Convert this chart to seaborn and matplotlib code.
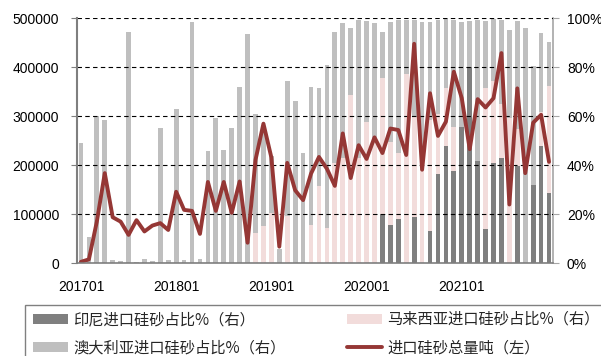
import numpy as np
import pandas as pd
import matplotlib
matplotlib.use("Agg")
import matplotlib.pyplot as plt
import seaborn as sns
from matplotlib.patches import Rectangle, Patch
from matplotlib.lines import Line2D
from matplotlib.ticker import FuncFormatter

# Monthly categories, Jan 2017 - Dec 2021
months = [
    "201701", "201702", "201703", "201704", "201705", "201706", "201707", "201708", "201709", "201710", "201711", "201712",
    "201801", "201802", "201803", "201804", "201805", "201806", "201807", "201808", "201809", "201810", "201811", "201812",
    "201901", "201902", "201903", "201904", "201905", "201906", "201907", "201908", "201909", "201910", "201911", "201912",
    "202001", "202002", "202003", "202004", "202005", "202006", "202007", "202008", "202009", "202010", "202011", "202012",
    "202101", "202102", "202103", "202104", "202105", "202106", "202107", "202108", "202109", "202110", "202111", "202112",
]
tick_labels = ["201701", "201801", "201901", "202001", "202101"]

# Total silica sand imports (tonnes, left axis)
total_tons = [
    3000, 8000, 85000, 184000, 94000, 85000, 58000, 88000, 65000, 77000, 82000, 68000,
    146000, 109000, 107000, 60000, 166000, 107000, 166000, 103000, 167000, 42000, 211000, 285000,
    216000, 34000, 205000, 149000, 129000, 183000, 217000, 193000, 158000, 265000, 174000, 241000,
    213000, 257000, 225000, 275000, 272000, 221000, 448000, 191000, 347000, 260000, 289000, 391000,
    337000, 233000, 335000, 318000, 337000, 429000, 120000, 357000, 184000, 287000, 303000, 207000,
]

# Import shares by origin (%, right axis)
indonesia_pct = [
    0, 0, 0, 0, 0, 0, 0, 0, 0, 0, 0, 0,
    0, 0, 0, 0, 0, 0, 0, 0, 0, 0, 0, 0,
    0, 0, 0, 0, 0, 0, 0, 0, 0, 0, 0, 0,
    0, 0, 20.0, 15.6, 18.1, 0, 18.9, 0, 13.2, 36.3, 48.0, 37.7,
    55.5, 80.0, 41.9, 14.0, 40.8, 43.0, 0, 39.9, 0, 32.0, 48.0, 28.8,
]
malaysia_pct = [
    0, 0, 0, 0, 0, 0, 0, 0, 0, 0, 0, 0,
    0, 0, 0, 0, 0, 0, 0, 0, 0, 0, 12.5, 15.3,
    20.6, 0, 19.4, 0, 0, 15.6, 31.6, 14.6, 40.8, 43.0, 68.7, 42.9,
    57.6, 51.0, 55.7, 34.1, 27.0, 77.2, 41.0, 38.0, 45.3, 24.6, 23.4, 18.1,
    0, 0, 0, 57.6, 33.6, 22.1, 59.2, 15.0, 0, 0, 13.6, 43.6,
]
australia_pct = [
    49.3, 10.8, 60.0, 58.4, 1.4, 1.1, 94.3, 0.7, 1.6, 1.1, 55.1, 1.4,
    63.0, 1.4, 98.5, 1.8, 46.0, 59.5, 46.4, 55.4, 72.1, 93.5, 48.3, 38.7,
    23.4, 5.7, 55.2, 66.4, 45.2, 56.5, 39.8, 66.4, 53.7, 55.0, 27.3, 56.4,
    41.3, 47.0, 18.9, 48.6, 54.3, 22.2, 39.5, 60.6, 40.1, 38.4, 28.2, 43.5,
    43.1, 18.8, 57.3, 27.4, 25.2, 34.2, 36.0, 44.0, 95.9, 48.6, 32.5, 17.8,
]

df = pd.DataFrame({
    "month": months,
    "total": total_tons,
    "id": indonesia_pct,
    "my": malaysia_pct,
    "au": australia_pct,
})
df["top_id"] = df["id"]
df["top_my"] = df["id"] + df["my"]
df["top_au"] = df["id"] + df["my"] + df["au"]

C_ID = "#7f7f7f"
C_MY = "#f2dcdb"
C_AU = "#bfbfbf"
C_LINE = "#953735"

sns.set_style("white")
plt.rcParams["font.family"] = ["Liberation Sans", "Noto Sans CJK SC", "DejaVu Sans"]

fig = plt.figure(figsize=(6.01, 3.56), dpi=100)
ax = fig.add_axes([77 / 601, 1 - 263.3 / 356, (553 - 77) / 601, (263.3 - 18.3) / 356])
axb = ax.twinx()

# stacked share bars (drawn as overlapping cumulative heights)
for col, c in [("top_au", C_AU), ("top_my", C_MY), ("top_id", C_ID)]:
    sns.barplot(data=df, x="month", y=col, color=c, saturation=1, width=0.6,
                linewidth=0, errorbar=None, ax=axb)

# total tonnage line
sns.lineplot(x=np.arange(len(months)), y=df["total"].values, ax=ax,
             color=C_LINE, linewidth=2.8, solid_joinstyle="round")

ax.set_zorder(axb.get_zorder() + 1)
ax.patch.set_visible(False)

ax.set_xlim(-0.5, len(months) - 0.5)
ax.set_ylim(0, 500000)
axb.set_ylim(0, 100)

ax.set_yticks(range(0, 500001, 100000))
ax.yaxis.set_major_formatter(FuncFormatter(lambda v, p: f"{int(v)}"))
axb.set_yticks(range(0, 101, 20))
axb.yaxis.set_major_formatter(FuncFormatter(lambda v, p: f"{int(v)}%"))

ax.set_xticks([months.index(t) for t in tick_labels])
ax.set_xticklabels(tick_labels)
ax.set_xticks(np.arange(-0.5, len(months), 1), minor=True)

ax.yaxis.grid(True, linestyle=(0, (4, 3)), color="black", linewidth=0.8)
ax.xaxis.grid(False)
ax.set_axisbelow(True)

for a in (ax, axb):
    a.set_xlabel("")
    a.set_ylabel("")

for s in ("top", "right"):
    ax.spines[s].set_visible(False)
ax.spines["left"].set_color("#7f7f7f")
ax.spines["left"].set_linewidth(1.5)
ax.spines["bottom"].set_color("#7f7f7f")
ax.spines["bottom"].set_linewidth(1.2)
for s in ("top", "left", "bottom"):
    axb.spines[s].set_visible(False)
axb.spines["right"].set_color("#a6a6a6")
axb.spines["right"].set_linewidth(1.2)

ax.tick_params(axis="x", which="major", length=0, pad=12, labelsize=10, labelcolor="black")
ax.tick_params(axis="x", which="minor", length=5, width=0.8, color="#7f7f7f", direction="out")
ax.tick_params(axis="y", length=4, width=0.8, color="#7f7f7f", direction="out", pad=9,
               labelsize=10, labelcolor="black", left=True)
axb.tick_params(axis="y", length=4, width=0.8, color="#a6a6a6", direction="out", pad=6,
                labelsize=10, labelcolor="black", right=True)

handles = [
    Patch(facecolor=C_ID, edgecolor="none"),
    Patch(facecolor=C_AU, edgecolor="none"),
    Patch(facecolor=C_MY, edgecolor="none"),
    Line2D([], [], color=C_LINE, linewidth=2.8),
]
labels = ["印尼进口硅砂占比%（右）", "澳大利亚进口硅砂占比%（右）",
          "马来西亚进口硅砂占比%（右）", "进口硅砂总量吨（左）"]
fig.legend(handles, labels, loc="upper left", bbox_to_anchor=(33 / 601, 1 - 311 / 356),
           ncol=2, frameon=False, borderpad=0, borderaxespad=0,
           prop={"family": ["Noto Sans CJK SC", "DejaVu Sans"], "size": 11},
           handlelength=2.3, handleheight=0.65, handletextpad=0.35,
           columnspacing=4.0, labelspacing=0.75)

fig.add_artist(Rectangle((25 / 601, -0.1), 1.0, 0.1 + (356 - 305) / 356,
                         transform=fig.transFigure, fill=False,
                         edgecolor="#808080", linewidth=1.0))

fig.savefig("out.png", dpi=100)
